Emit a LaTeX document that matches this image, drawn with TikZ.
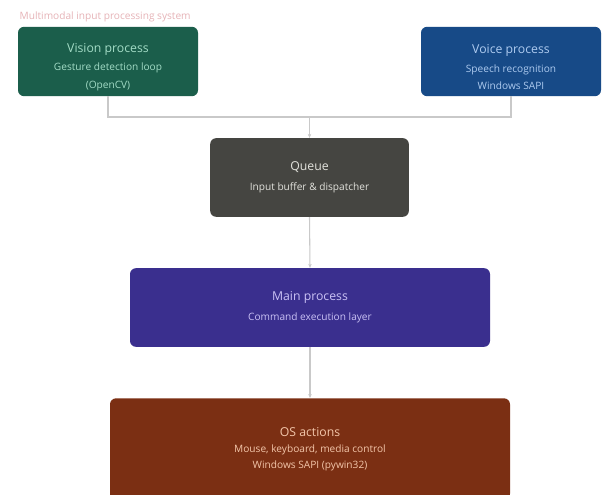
\documentclass[tikz,border=0pt]{standalone}
\usepackage{fontspec}
\setmainfont{Open Sans}
\usepackage{tikz}
\usetikzlibrary{arrows.meta}

\definecolor{visionfill}{HTML}{1B5E4B}
\definecolor{visiontext}{HTML}{A3DCC6}
\definecolor{voicefill}{HTML}{174A87}
\definecolor{voicetext}{HTML}{AECBF0}
\definecolor{queuefill}{HTML}{454541}
\definecolor{queuetext}{HTML}{E2E2DC}
\definecolor{mainfill}{HTML}{3A2F8E}
\definecolor{maintext}{HTML}{CAC2F5}
\definecolor{osfill}{HTML}{7B2F13}
\definecolor{ostext}{HTML}{F3C6AA}
\definecolor{linkgray}{HTML}{C9C9C9}
\definecolor{titlepink}{HTML}{E6B3B7}

\begin{document}
\begin{tikzpicture}[x=0.75pt,y=-0.75pt,
    box/.style={rectangle,rounded corners=4.5pt,draw=none,align=center,inner sep=0pt},
    link/.style={draw=linkgray,line width=0.8pt},
    linkarrow/.style={link,-{Stealth[length=3pt,width=2.6pt]}}]
            \clip (0,0) rectangle (603,495);
            \fill[white] (0,0) rectangle (603,495);
            \node[anchor=west,text=titlepink,font=\fontsize{7.6}{9}\selectfont] (title) at (15,17) {Multimodal input processing system};
            \node[box,fill=visionfill,text=visiontext,minimum width=135pt,minimum height=52pt] (vision) at (108,61.5)
                {\rule{0pt}{15pt}{\fontsize{9.2}{10}\selectfont Vision process}\\[2pt]
                 {\fontsize{7.6}{8}\selectfont Gesture detection loop}\\[1pt]
                 {\fontsize{7.6}{8}\selectfont (OpenCV)}};
            \node[box,fill=voicefill,text=voicetext,minimum width=135pt,minimum height=52pt] (voice) at (511,61.5)
                {\rule{0pt}{15pt}{\fontsize{9.2}{10}\selectfont Voice process}\\[2pt]
                 {\fontsize{7.6}{8}\selectfont Speech recognition}\\[1pt]
                 {\fontsize{7.6}{8}\selectfont Windows SAPI}};
            \node[box,fill=queuefill,text=queuetext,minimum width=149pt,minimum height=59pt] (queue) at (309.5,177.5)
                {{\fontsize{9.2}{10}\selectfont Queue}\\[3pt]
                 {\fontsize{7.6}{8}\selectfont Input buffer \& dispatcher}};
            \node[box,fill=mainfill,text=maintext,minimum width=270pt,minimum height=59pt] (main) at (310,307.5)
                {{\fontsize{9.2}{10}\selectfont Main process}\\[3pt]
                 {\fontsize{7.6}{8}\selectfont Command execution layer}};
            \node[box,fill=osfill,text=ostext,minimum width=300pt,minimum height=76pt] (os) at (310,449)
                {{\fontsize{9.2}{10}\selectfont OS actions}\\[0pt]
                 {\fontsize{7.6}{8}\selectfont Mouse, keyboard, media control}\\
                 {\fontsize{7.6}{8}\selectfont Windows SAPI (pywin32)}};
            % merge of the two inputs
            \coordinate (join) at (queue.north |- 0,117);
            \draw[link] (vision.south) |- (join);
            \draw[link] (voice.south) |- (join);
            \draw[linkarrow] (join) -- (queue.north);
            \draw[linkarrow] (queue.south) -- (main.north);
            \draw[linkarrow] (main.south) -- (os.north);
\end{tikzpicture}
\end{document}
